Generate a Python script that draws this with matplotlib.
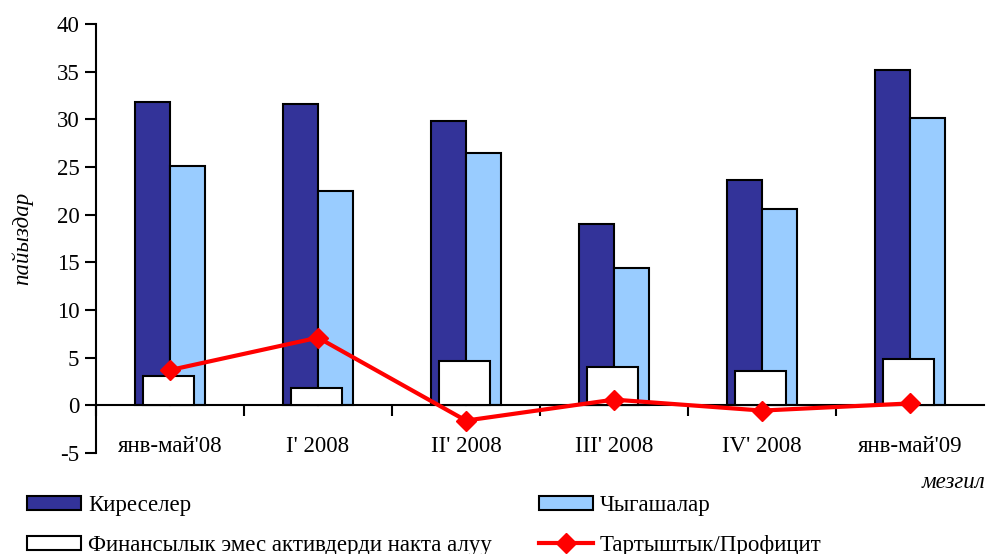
import matplotlib.pyplot as plt
import numpy as np
from matplotlib.lines import Line2D
from matplotlib.patches import Patch

plt.rcParams["font.family"] = ["Liberation Serif", "DejaVu Serif"]
plt.rcParams["axes.unicode_minus"] = False

categories = ["янв-май'08", "I' 2008", "II' 2008", "III' 2008", "IV' 2008", "янв-май'09"]
revenue = [31.8, 31.6, 29.8, 19.0, 23.6, 35.2]
expenses = [25.1, 22.5, 26.5, 14.4, 20.6, 30.1]
asset_sales = [3.05, 1.8, 4.65, 4.0, 3.65, 4.85]
balance = [3.7, 7.1, -1.6, 0.6, -0.55, 0.2]

labels = ["Киреселер", "Чыгашалар", "Финансылык эмес активдерди накта алуу", "Тартыштык/Профицит"]

DARK = "#333399"
LIGHT = "#99CCFF"
RED = "#FF0000"
FS = 16.5

fig = plt.figure(figsize=(9.87, 5.54), dpi=100)
ax = fig.add_axes([96 / 987, 1 - 453 / 554, 888 / 987, 429 / 554])

x = np.arange(len(categories))
w = 0.235
ax.bar(x - w / 2, revenue, width=w, color=DARK, edgecolor="black", linewidth=1.5, zorder=2)
ax.bar(x + w / 2, expenses, width=w, color=LIGHT, edgecolor="black", linewidth=1.5, zorder=2)
ax.bar(x - 0.01, asset_sales, width=0.34, color="white", edgecolor="black", linewidth=1.5, zorder=3)
ax.plot(x, balance, color=RED, linewidth=3, marker="D", markersize=10, zorder=4)

ax.set_xlim(-0.5, len(categories) - 0.5)
ax.set_ylim(-5, 40)
ax.set_yticks(np.arange(-5, 41, 5))

# x axis sits on zero; boundary ticks without labels, category labels on minor ticks
ax.spines["bottom"].set_position(("data", 0))
ax.spines["bottom"].set_linewidth(1.5)
ax.spines["left"].set_linewidth(1.5)
ax.spines["top"].set_visible(False)
ax.spines["right"].set_visible(False)
ax.set_xticks(np.arange(-0.5, len(categories) - 0.9, 1.0))
ax.set_xticklabels([])
ax.set_xticks(x, minor=True)
ax.set_xticklabels(categories, minor=True)
ax.tick_params(axis="x", which="major", direction="out", length=8, width=1.5)
ax.tick_params(axis="x", which="minor", length=0, pad=22, labelsize=FS)
ax.tick_params(axis="y", direction="out", length=8, width=1.5, labelsize=FS, pad=4)

ax.set_ylabel("пайыздар", fontsize=FS, style="italic", labelpad=17)
fig.text(985 / 987, 1 - 483 / 554, "мезгил", ha="right", va="center", fontsize=FS, style="italic")

h_dark = Patch(facecolor=DARK, edgecolor="black", linewidth=1.5)
h_light = Patch(facecolor=LIGHT, edgecolor="black", linewidth=1.5)
h_white = Patch(facecolor="white", edgecolor="black", linewidth=1.5)
h_line = Line2D([], [], color=RED, linewidth=3, marker="D", markersize=10)

leg_kw = dict(frameon=False, fontsize=FS, handlelength=2.36, handleheight=0.57,
              handletextpad=0.3, labelspacing=0.82, loc="upper left", borderaxespad=0, borderpad=0)
fig.legend([h_dark, h_white], [labels[0], labels[2]], bbox_to_anchor=(27 / 987, 1 - 495 / 554), **leg_kw)
fig.legend([h_light, h_line], [labels[1], labels[3]], bbox_to_anchor=(539 / 987, 1 - 495 / 554), **leg_kw)

fig.savefig("out.png", dpi=100)
